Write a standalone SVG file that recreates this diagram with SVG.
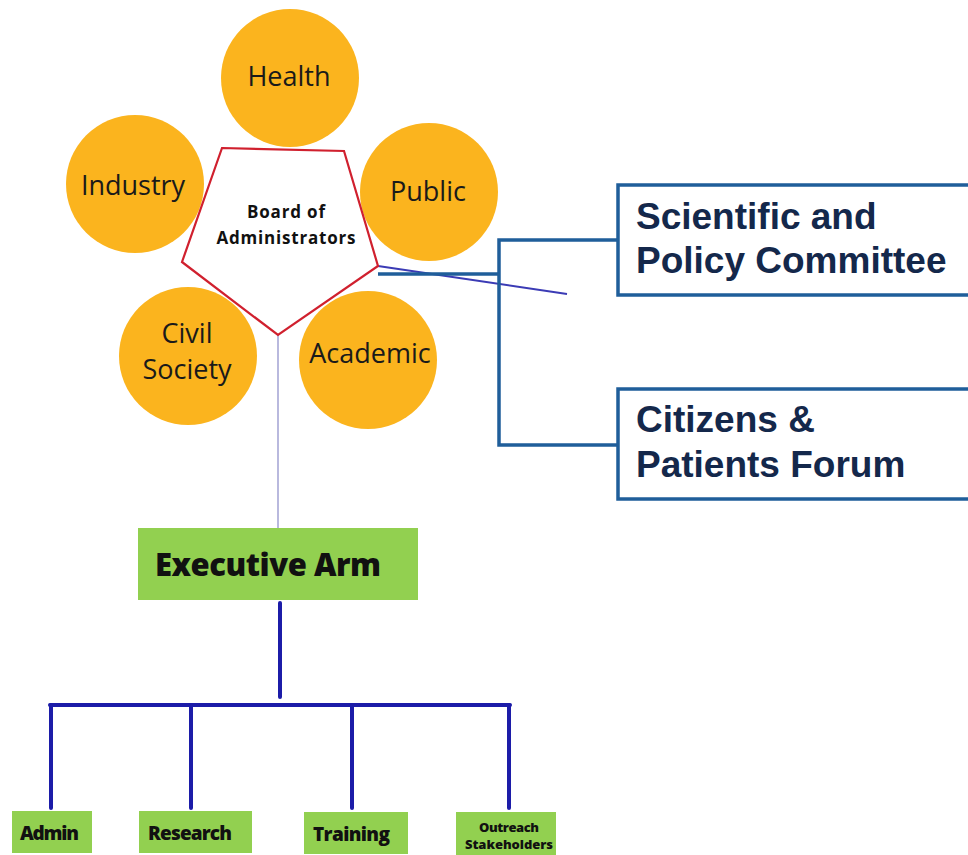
<svg xmlns="http://www.w3.org/2000/svg" width="968" height="855" viewBox="0 0 968 855">
<style>
.c{fill:#FBB41E}
.ct{font-family:"Open Sans","Liberation Sans",sans-serif;font-size:27px;fill:#1a1a1a;text-anchor:middle}
.g{fill:#92D050}
.gt{font-family:"Open Sans","Liberation Sans",sans-serif;font-weight:800;fill:#111}
.bd{font-family:"Open Sans","Liberation Sans",sans-serif;font-weight:bold;fill:#111;font-size:17px;text-anchor:middle}
.bx{fill:#fff;stroke:#1F5E9A;stroke-width:3.5}
.bt{font-family:"Liberation Sans",Arial,sans-serif;font-weight:bold;font-size:37px;fill:#14284B}
.org{stroke:#1C1CA8;stroke-width:4;fill:none;stroke-linecap:round}
.br{stroke:#1F5E9A;stroke-width:3.5;fill:none}
</style>
<rect width="968" height="855" fill="#fff"/>
<g id="connectors">
<line x1="278" y1="335" x2="278" y2="528" stroke="#8a8ac8" stroke-width="1.2"/>
<line x1="378" y1="266" x2="567" y2="294" stroke="#3B3BB5" stroke-width="2"/>
<polyline class="br" points="618,240 499,240 499,445 618,445"/>
<line class="br" x1="378" y1="274" x2="499" y2="274"/>
<line class="org" x1="280" y1="603" x2="280" y2="697"/>
<line class="org" x1="50" y1="705" x2="510" y2="705" stroke-linecap="butt"/>
<line class="org" x1="51" y1="705" x2="51" y2="808"/>
<line class="org" x1="191" y1="705" x2="191" y2="808"/>
<line class="org" x1="352" y1="705" x2="352" y2="808"/>
<line class="org" x1="509" y1="705" x2="509" y2="808"/>
</g>
<g id="health"><circle class="c" cx="290" cy="78" r="69"/><text class="ct" x="289" y="86">Health</text></g>
<g id="industry"><circle class="c" cx="135" cy="184" r="69"/><text class="ct" x="133" y="195">Industry</text></g>
<g id="public"><circle class="c" cx="429" cy="192" r="69"/><text class="ct" x="428" y="201">Public</text></g>
<g id="civil"><circle class="c" cx="188" cy="356" r="69"/><text class="ct" x="187" y="343">Civil</text><text class="ct" x="187" y="379">Society</text></g>
<g id="academic"><circle class="c" cx="368" cy="360" r="69"/><text class="ct" x="370" y="363">Academic</text></g>
<g id="board">
<polygon points="222,148 344,151 378,266 278,335 182,262" fill="#fff" stroke="#D0202E" stroke-width="2.2" stroke-linejoin="miter"/>
<text class="bd" x="286" y="218" textLength="78">Board of</text>
<text class="bd" x="286" y="244" textLength="139">Administrators</text>
</g>
<g id="scientific">
<rect class="bx" x="618" y="185" width="370" height="110"/>
<text class="bt" x="636" y="229">Scientific and</text>
<text class="bt" x="636" y="273">Policy Committee</text>
</g>
<g id="citizens">
<rect class="bx" x="618" y="389" width="370" height="110"/>
<text class="bt" x="636" y="432">Citizens &amp;</text>
<text class="bt" x="636" y="477">Patients Forum</text>
</g>
<g id="executive">
<rect class="g" x="138" y="528" width="280" height="72"/>
<text class="gt" x="155" y="576" font-size="31" textLength="226">Executive Arm</text>
</g>
<g id="admin"><rect class="g" x="12" y="811" width="80" height="42"/><text class="gt" x="20" y="840" font-size="19" textLength="59">Admin</text></g>
<g id="research"><rect class="g" x="139" y="811" width="113" height="42"/><text class="gt" x="148" y="840" font-size="19" textLength="84">Research</text></g>
<g id="training"><rect class="g" x="304" y="812" width="104" height="42"/><text class="gt" x="313" y="841" font-size="19" textLength="77">Training</text></g>
<g id="outreach"><rect class="g" x="456" y="812" width="100" height="44"/>
<text class="gt" x="509" y="832" font-size="13" text-anchor="middle" textLength="60">Outreach</text>
<text class="gt" x="509" y="849" font-size="13" text-anchor="middle" textLength="88">Stakeholders</text></g>
</svg>
